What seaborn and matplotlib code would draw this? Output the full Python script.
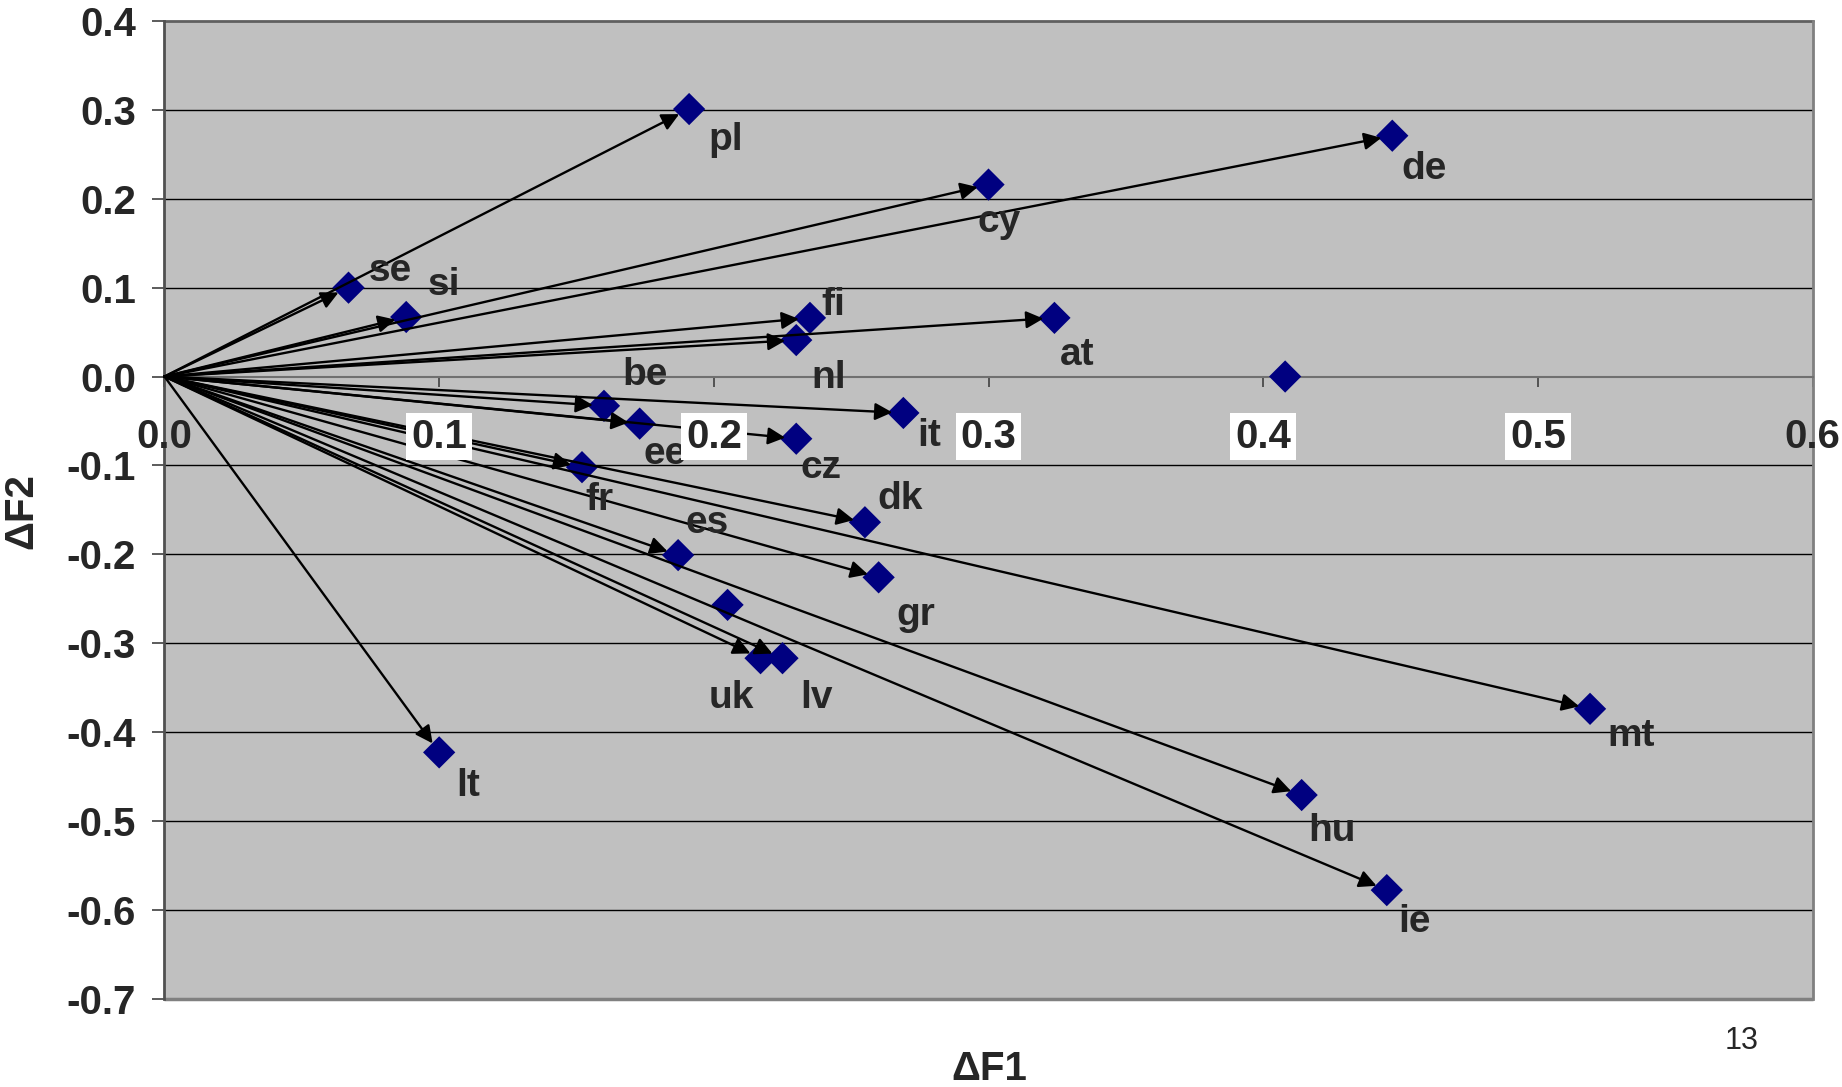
import matplotlib
matplotlib.use("Agg")
import matplotlib.pyplot as plt
import seaborn as sns
import pandas as pd
from matplotlib.patches import Rectangle

# ---------------- data ----------------
countries = ['pl', 'de', 'cy', 'se', 'si', 'fi', 'nl', 'at', 'be', 'ee', 'it',
             'cz', 'fr', 'dk', 'es', 'gr', 'uk', 'lv', 'lt', 'mt', 'hu', 'ie']
dF1 = [0.191, 0.447, 0.300, 0.067, 0.088, 0.235, 0.230, 0.324, 0.160, 0.173, 0.269,
       0.230, 0.152, 0.255, 0.187, 0.260, 0.217, 0.225, 0.100, 0.519, 0.414, 0.445]
dF2 = [0.301, 0.271, 0.216, 0.100, 0.067, 0.066, 0.041, 0.066, -0.033, -0.053, -0.041,
       -0.070, -0.102, -0.164, -0.201, -0.226, -0.317, -0.317, -0.423, -0.374, -0.471, -0.578]
# points without label / arrow
extra_F1 = [0.408, 0.205]
extra_F2 = [0.000, -0.257]

x_ticks = [0.0, 0.1, 0.2, 0.3, 0.4, 0.5, 0.6]
y_ticks = [0.4, 0.3, 0.2, 0.1, 0.0, -0.1, -0.2, -0.3, -0.4, -0.5, -0.6, -0.7]

# label offsets (pixels, relative to point)  -- layout only
S = 1.1747
label_off = {
    'pl': (31, 26), 'de': (27, 28), 'cy': (9, 32), 'se': (36, -14), 'si': (32, -27),
    'fi': (20, -11), 'nl': (28, 32), 'at': (19, 32), 'be': (35, -26), 'ee': (22, 26),
    'it': (22, 20), 'cz': (21, 25), 'fr': (15, 28), 'dk': (30, -20), 'es': (25, -27),
    'gr': (32, 32), 'uk': (-25, 34), 'lv': (29, 34), 'lt': (25, 29), 'mt': (35, 23),
    'hu': (26, 31), 'ie': (24, 27),
}

df = pd.DataFrame({'F1': dF1 + extra_F1, 'F2': dF2 + extra_F2})

# ---------------- style ----------------
sns.set_style("white")
plt.rcParams['font.family'] = ['Liberation Sans', 'DejaVu Sans']
plt.rcParams['axes.unicode_minus'] = False

fig = plt.figure(figsize=(18.42, 10.87), dpi=100)
ax = fig.add_axes([0.0893, 0.0814, 0.8947, 0.8992])
ax.set_facecolor('#C0C0C0')

# grid lines
for yv in y_ticks:
    if yv == 0.4:
        ax.axhline(yv, color='#606060', lw=2.0, zorder=1, clip_on=False)
    elif yv != 0.0:
        ax.axhline(yv, color='black', lw=1.0, zorder=1)

sns.scatterplot(data=df, x='F1', y='F2', marker='D', color='#000080', s=270,
                edgecolor='none', linewidth=0, ax=ax, zorder=3)

for c, x, y in zip(countries, dF1, dF2):
    ax.annotate('', xy=(x, y), xytext=(0, 0),
                arrowprops=dict(arrowstyle='-|>', color='black', lw=1.7,
                                mutation_scale=26, shrinkA=0, shrinkB=8),
                zorder=4)
    ox, oy = label_off[c]
    ax.annotate(c, xy=(x, y), xytext=(ox * S, -oy * S), textcoords='offset pixels',
                ha='center', va='center', fontsize=28, fontweight='bold', zorder=5)

ax.set_xlim(0, 0.6)
ax.set_ylim(-0.7, 0.4)

ax.set_yticks(y_ticks)
ax.set_yticklabels([f"{v:.1f}" for v in y_ticks], fontsize=29, fontweight='bold')
ax.tick_params(axis='y', direction='out', length=8.5, width=1.2, color='#404040', pad=12, left=True)

ax.set_xticks(x_ticks)
ax.set_xticklabels([])
ax.tick_params(axis='x', direction='out', length=7, width=1.2, color='#404040', bottom=True)

for xv in x_ticks:
    kw = dict(ha='center', va='center', fontsize=29, fontweight='bold', zorder=6,
              annotation_clip=False)
    if 0.0 < xv < 0.6:
        kw['bbox'] = dict(boxstyle='square,pad=0.12', fc='white', ec='none')
    ax.annotate(f"{xv:.1f}", xy=(xv, 0), xytext=(0, -60), textcoords='offset pixels', **kw)

ax.spines['bottom'].set_position(('data', 0))
ax.spines['bottom'].set_color('#707070')
ax.spines['bottom'].set_linewidth(1.5)
ax.spines['top'].set_visible(False)
ax.spines['left'].set_color('#505050')
ax.spines['left'].set_linewidth(2.0)
ax.spines['right'].set_color('#808080')
ax.spines['right'].set_linewidth(2.0)
ax.add_patch(Rectangle((0, 0), 1, 0.0, transform=ax.transAxes, fill=False,
                       edgecolor='#808080', lw=2.5, clip_on=False, zorder=2))

ax.set_xlabel('')
ax.set_ylabel('')
fig.text(0.0114, 0.530, 'ΔF2', rotation=90, ha='center', va='center',
         fontsize=29, fontweight='bold')
fig.text(0.537, 0.0166, 'ΔF1', ha='center', va='center', fontsize=29, fontweight='bold')
fig.text(0.9457, 0.0423, '13', ha='center', va='center', fontsize=22)

fig.savefig('out.png', dpi=100)
